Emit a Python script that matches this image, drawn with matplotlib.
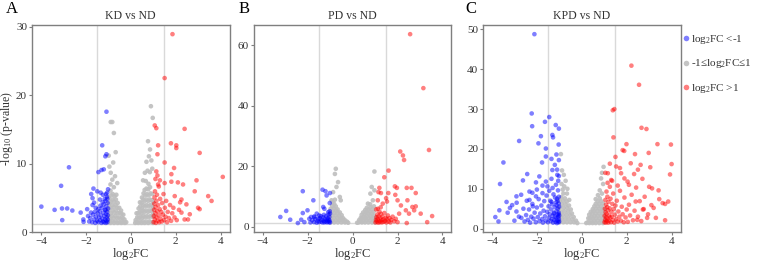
import matplotlib

matplotlib.use("Agg")

import matplotlib.pyplot as plt
from matplotlib.lines import Line2D

plt.rcParams["font.family"] = ["Liberation Serif", "DejaVu Serif"]
plt.rcParams["mathtext.fontset"] = "custom"
plt.rcParams["mathtext.rm"] = "Liberation Serif"
plt.rcParams["mathtext.it"] = "Liberation Serif"

# ---- data: (log2FC, -log10 p-value) ----

titles = ["KD vs ND", "PD vs ND", "KPD vs ND"]
letters = ["A", "B", "C"]
y_ticks = [[0, 10, 20, 30], [0, 20, 40, 60], [0, 10, 20, 30, 40, 50]]
x_ticks = [-4, -2, 0, 2, 4]
fc_lines = [-1.5, 1.5]
p_line = 1.3

kd_down = [
    (-3.98, 3.77), (-3.39, 3.3), (-3.1, 6.8), (-3.06, 3.5), (-2.83, 3.5), (-3.05, 1.8),
    (-2.75, 9.5), (-2.6, 3.2), (-2.23, 2.9), (-2.11, 1.9), (-2.1, 1.55), (-1.94, 3.4),
    (-1.9, 2.4), (-1.77, 2.9), (-1.76, 5.6), (-1.7, 5.0), (-1.66, 6.4), (-1.63, 4.35),
    (-1.56, 3.6), (-1.49, 6.0), (-1.44, 8.8), (-1.37, 4.8), (-1.34, 5.8), (-1.3, 9.1),
    (-1.27, 12.7), (-1.24, 5.5), (-1.2, 9.2), (-1.13, 11.1), (-1.08, 11.4), (-1.08, 17.6),
    (-1.05, 5.8), (-1.85, 1.6), (-1.8, 2.1), (-1.72, 1.5), (-1.68, 2.6), (-1.62, 1.9),
    (-1.58, 1.4), (-1.55, 2.3), (-1.5, 1.7), (-1.47, 2.8), (-1.44, 1.5), (-1.41, 2.2),
    (-1.38, 3.1), (-1.36, 1.8), (-1.33, 2.5), (-1.3, 1.4), (-1.28, 3.6), (-1.26, 2.0),
    (-1.24, 1.6), (-1.22, 2.9), (-1.2, 4.1), (-1.19, 1.5), (-1.17, 2.4), (-1.15, 3.3),
    (-1.14, 1.9), (-1.12, 4.6), (-1.11, 1.4), (-1.1, 2.7), (-1.09, 3.8), (-1.08, 1.7),
    (-1.07, 2.2), (-1.06, 5.2), (-1.05, 3.0), (-1.04, 1.5), (-1.03, 4.3), (-1.02, 2.5),
    (-1.02, 1.9), (-1.01, 3.5), (-1.01, 6.3), (-1.12, 3.3), (-1.16, 4.9), (-1.25, 4.4),
    (-1.35, 3.9), (-1.45, 3.4), (-1.6, 3.0), (-1.7, 4.0), (-1.1, 5.6), (-1.04, 4.9),
]
kd_flat = [
    (-0.89, 16.1), (-0.82, 16.1), (-0.75, 14.5), (-0.67, 11.7), (-0.78, 10.2), (-0.89, 8.7),
    (-0.82, 7.7), (-0.95, 9.6), (-0.7, 8.2), (-0.9, 7.0), (-0.6, 7.2), (-0.75, 6.6),
    (-0.98, 11.2),
    (-0.98, 1.5), (-0.97, 2.4), (-0.99, 3.3), (-0.96, 4.2), (-0.98, 5.1),
    (-0.9, 1.4), (-0.92, 2.0), (-0.89, 2.8), (-0.91, 3.6), (-0.9, 4.5), (-0.88, 5.4), (-0.9, 6.1),
    (-0.82, 1.6), (-0.84, 2.4), (-0.81, 3.2), (-0.83, 4.0), (-0.82, 4.8), (-0.8, 5.6),
    (-0.74, 1.4), (-0.76, 2.1), (-0.73, 2.9), (-0.75, 3.7), (-0.74, 4.5), (-0.72, 5.3),
    (-0.66, 1.6), (-0.68, 2.4), (-0.65, 3.2), (-0.67, 4.0), (-0.66, 4.8), (-0.64, 5.5),
    (-0.58, 1.4), (-0.6, 2.1), (-0.57, 2.8), (-0.59, 3.6), (-0.58, 4.3),
    (-0.5, 1.5), (-0.52, 2.2), (-0.49, 2.9), (-0.51, 3.6),
    (-0.42, 1.4), (-0.44, 2.0), (-0.41, 2.7), (-0.43, 3.2),
    (-0.34, 1.5), (-0.36, 2.1), (-0.33, 2.6), (-0.26, 1.4), (-0.28, 1.9), (-0.2, 1.5),
    (0.9, 18.4), (0.98, 16.7), (0.77, 13.3), (0.81, 11.1), (0.86, 12.1), (0.63, 8.7),
    (0.7, 10.3), (0.92, 10.5), (0.96, 9.3), (0.55, 7.6), (0.85, 8.8), (0.75, 9.0), (0.67, 7.5),
    (0.2, 1.4), (0.22, 1.8), (0.27, 1.5), (0.29, 2.2), (0.26, 2.8),
    (0.34, 1.4), (0.36, 2.1), (0.33, 2.8), (0.35, 3.5),
    (0.41, 1.6), (0.43, 2.3), (0.4, 3.0), (0.42, 3.8), (0.41, 4.4),
    (0.48, 1.4), (0.5, 2.1), (0.47, 2.8), (0.49, 3.5), (0.48, 4.3), (0.5, 5.1),
    (0.55, 1.6), (0.57, 2.4), (0.54, 3.2), (0.56, 4.0), (0.55, 4.8), (0.57, 5.7),
    (0.62, 1.4), (0.64, 2.2), (0.61, 3.0), (0.63, 3.8), (0.62, 4.6), (0.64, 5.4), (0.62, 6.2),
    (0.7, 1.6), (0.72, 2.4), (0.69, 3.2), (0.71, 4.0), (0.7, 4.8), (0.72, 5.6), (0.7, 6.4),
    (0.78, 1.4), (0.8, 2.2), (0.77, 3.0), (0.79, 3.8), (0.78, 4.6), (0.8, 5.4), (0.78, 6.3),
    (0.79, 7.1),
    (0.86, 1.6), (0.88, 2.4), (0.85, 3.2), (0.87, 4.0), (0.86, 4.8), (0.88, 5.7), (0.86, 6.6),
    (0.94, 1.5), (0.96, 2.3), (0.93, 3.1), (0.95, 3.9), (0.94, 4.7), (0.96, 5.6),
    (0.99, 1.4), (0.99, 2.6), (0.98, 3.5), (0.99, 4.4),
]
kd_up = [
    (1.86, 28.9), (1.51, 22.5), (2.4, 15.1), (1.07, 15.6), (1.14, 15.2), (1.22, 12.7),
    (1.79, 13.0), (2.03, 12.7), (2.03, 12.3), (3.07, 11.6), (1.19, 11.4), (1.51, 10.2),
    (1.93, 9.4), (1.14, 8.9), (1.19, 8.3), (1.81, 8.5), (4.1, 8.1), (2.93, 7.6),
    (2.33, 7.0), (2.1, 7.3), (1.81, 7.4), (1.51, 7.2), (1.22, 7.0), (2.85, 6.0),
    (3.45, 5.3), (3.6, 4.6), (3.0, 3.6), (3.07, 3.4), (2.26, 4.8), (2.48, 4.1),
    (2.26, 2.9), (2.63, 2.66), (2.55, 1.9), (2.4, 1.9), (1.96, 5.3),
    (1.02, 1.5), (1.03, 2.4), (1.04, 3.3), (1.05, 4.2), (1.06, 5.1), (1.07, 1.9),
    (1.08, 6.0), (1.1, 2.8), (1.11, 3.7), (1.12, 1.4), (1.14, 4.6), (1.15, 2.2),
    (1.17, 5.5), (1.18, 3.1), (1.2, 1.7), (1.22, 4.0), (1.24, 2.5), (1.25, 6.7),
    (1.27, 1.5), (1.29, 3.4), (1.31, 4.9), (1.33, 2.0), (1.36, 3.0), (1.38, 1.6),
    (1.4, 4.3), (1.43, 2.6), (1.46, 5.6), (1.49, 1.8), (1.52, 3.6), (1.55, 2.3),
    (1.58, 4.6), (1.62, 1.5), (1.65, 3.0), (1.7, 2.1), (1.75, 4.0), (1.8, 1.7),
    (1.85, 2.8), (1.9, 3.6), (1.95, 2.2), (2.05, 1.8), (2.15, 3.3), (2.2, 4.4),
    (1.1, 7.8), (1.3, 7.6),
]

pd_down = [
    (-3.22, 3.3), (-2.96, 5.3), (-2.78, 2.4), (-2.44, 1.3), (-2.29, 2.4), (-2.22, 11.8),
    (-2.22, 4.6), (-2.15, 1.6), (-2.01, 5.5), (-1.93, 2.7), (-1.85, 3.3), (-1.75, 8.8),
    (-1.71, 3.5), (-1.6, 4.4), (-1.53, 2.7), (-1.49, 3.8), (-1.34, 12.3), (-1.31, 6.6),
    (-1.26, 6.0), (-1.21, 11.8), (-1.16, 10.4), (-1.09, 4.9), (-1.01, 11.2), (-1.02, 7.9),
    (-1.01, 4.4), (-1.88, 1.5), (-1.8, 2.2), (-1.72, 1.6), (-1.66, 2.6), (-1.6, 1.4),
    (-1.56, 2.0), (-1.5, 1.6), (-1.46, 2.9), (-1.42, 1.8), (-1.38, 2.4), (-1.35, 1.5),
    (-1.32, 3.2), (-1.29, 2.0), (-1.26, 1.5), (-1.24, 2.7), (-1.21, 1.8), (-1.18, 3.6),
    (-1.16, 2.3), (-1.14, 1.5), (-1.12, 2.9), (-1.1, 1.9), (-1.08, 4.1), (-1.07, 2.5),
    (-1.05, 1.6), (-1.04, 3.3), (-1.03, 2.1), (-1.02, 5.2), (-1.01, 1.5), (-1.28, 4.0),
    (-1.42, 3.6), (-1.7, 3.2),
]
pd_flat = [
    (-0.75, 19.2), (-0.79, 17.5), (-0.65, 14.8), (-0.72, 13.2), (-0.87, 11.5), (-0.57, 9.9),
    (-0.53, 8.8), (-0.79, 9.0), (-0.94, 8.8),
    (-0.98, 1.5), (-0.97, 3.0), (-0.99, 4.5), (-0.98, 6.0),
    (-0.9, 2.2), (-0.92, 3.8), (-0.89, 5.4), (-0.91, 7.0), (-0.9, 8.2),
    (-0.82, 1.5), (-0.84, 3.0), (-0.81, 4.6), (-0.83, 6.2), (-0.82, 7.6),
    (-0.74, 2.2), (-0.76, 3.8), (-0.73, 5.4), (-0.75, 6.8),
    (-0.66, 1.5), (-0.68, 3.0), (-0.65, 4.5), (-0.67, 5.8),
    (-0.58, 2.2), (-0.6, 3.6), (-0.57, 4.8),
    (-0.5, 1.5), (-0.52, 2.8), (-0.49, 3.9), (-0.42, 2.0), (-0.44, 3.0),
    (-0.34, 1.5), (-0.36, 2.4), (-0.26, 1.8), (-0.2, 1.4),
    (0.97, 18.3), (0.79, 11.0), (0.85, 13.2), (0.9, 8.8), (0.68, 7.7), (0.97, 12.1),
    (0.2, 1.4), (0.27, 1.5), (0.29, 2.3), (0.34, 1.8), (0.36, 3.0),
    (0.41, 1.5), (0.43, 2.8), (0.4, 4.0), (0.48, 2.0), (0.5, 3.4), (0.47, 4.8),
    (0.55, 1.5), (0.57, 2.9), (0.54, 4.3), (0.56, 5.6),
    (0.62, 2.2), (0.64, 3.6), (0.61, 5.0), (0.63, 6.3),
    (0.7, 1.5), (0.72, 2.9), (0.69, 4.4), (0.71, 5.8),
    (0.78, 2.2), (0.8, 3.6), (0.77, 5.0), (0.79, 6.5), (0.78, 7.5),
    (0.86, 1.5), (0.88, 3.0), (0.85, 4.4), (0.87, 5.8),
    (0.94, 2.2), (0.96, 3.6), (0.93, 5.0), (0.95, 6.8), (0.99, 1.5), (0.99, 3.0),
]
pd_up = [
    (2.56, 63.6), (3.15, 45.8), (3.4, 25.4), (2.12, 24.9), (2.24, 23.6), (2.29, 22.1),
    (1.6, 18.6), (1.41, 16.4), (1.88, 13.4), (1.97, 12.9), (2.41, 12.9), (2.62, 12.9),
    (2.81, 11.2), (1.19, 12.9), (1.26, 11.2), (1.15, 11.5), (1.59, 11.2), (1.49, 9.5),
    (1.53, 8.4), (1.9, 10.6), (1.12, 8.8), (1.34, 7.7), (2.0, 8.8), (2.15, 7.1),
    (2.44, 8.8), (2.66, 6.6), (2.81, 6.8), (2.74, 5.5), (3.03, 4.4), (3.54, 3.6),
    (3.32, 1.6), (2.41, 1.3), (2.51, 4.4), (2.37, 5.5), (2.07, 4.4),
    (1.02, 1.5), (1.04, 2.3), (1.06, 3.2), (1.08, 1.8), (1.1, 4.1), (1.12, 2.6),
    (1.14, 1.4), (1.16, 3.5), (1.18, 2.0), (1.2, 5.0), (1.22, 1.6), (1.24, 2.9),
    (1.26, 4.3), (1.28, 2.2), (1.3, 1.5), (1.33, 3.4), (1.36, 2.5), (1.38, 1.7),
    (1.41, 4.6), (1.44, 2.0), (1.47, 3.0), (1.5, 1.5), (1.53, 2.6), (1.57, 3.8),
    (1.6, 1.8), (1.64, 2.9), (1.68, 1.5), (1.72, 2.3), (1.78, 3.4), (1.85, 1.9),
    (1.92, 2.7), (2.0, 1.6), (1.12, 6.0), (1.25, 6.5), (1.05, 5.8),
]

kpd_down = [
    (-2.11, 48.8), (-2.23, 28.9), (-1.45, 28.0), (-1.64, 26.8), (-2.21, 25.7), (-1.16, 26.0),
    (-1.02, 25.1), (-1.31, 23.5), (-1.28, 22.9), (-1.82, 23.2), (-2.79, 22.0), (-1.03, 21.1),
    (-1.93, 21.4), (-1.6, 20.1), (-1.6, 18.1), (-1.35, 17.5), (-1.77, 16.6), (-3.49, 16.6),
    (-1.13, 18.6), (-1.02, 17.2), (-2.43, 13.7), (-2.62, 12.1), (-2.04, 11.6), (-3.64, 11.2),
    (-1.31, 14.7), (-1.09, 13.5), (-1.02, 13.2), (-1.89, 13.1), (-2.33, 9.3), (-2.91, 8.1),
    (-3.35, 6.7), (-3.2, 5.2), (-3.67, 4.6), (-3.85, 2.9), (-3.71, 1.8), (-2.91, 4.3),
    (-2.69, 2.7), (-2.33, 7.2), (-2.04, 8.1), (-1.75, 8.9), (-1.53, 10.6), (-2.18, 5.6),
    (-2.55, 1.8), (-2.48, 3.4), (-2.4, 2.2), (-2.35, 4.8), (-2.3, 1.5), (-2.25, 3.0),
    (-2.2, 6.2), (-2.15, 2.5), (-2.1, 4.0), (-2.05, 1.6), (-2.0, 5.3), (-1.96, 2.9),
    (-1.92, 7.4), (-1.88, 1.9), (-1.85, 3.8), (-1.8, 5.8), (-1.77, 2.4), (-1.73, 1.5),
    (-1.7, 4.5), (-1.67, 6.9), (-1.64, 3.1), (-1.6, 2.0), (-1.57, 8.3), (-1.54, 4.2),
    (-1.51, 1.6), (-1.48, 5.6), (-1.46, 2.7), (-1.43, 3.6), (-1.4, 7.0), (-1.38, 1.9),
    (-1.36, 4.8), (-1.34, 2.4), (-1.32, 6.1), (-1.3, 3.2), (-1.28, 1.5), (-1.26, 8.6),
    (-1.24, 4.0), (-1.22, 2.2), (-1.2, 5.4), (-1.18, 3.0), (-1.17, 1.7), (-1.15, 6.6),
    (-1.14, 2.6), (-1.12, 4.4), (-1.11, 1.4), (-1.1, 7.5), (-1.09, 3.5), (-1.08, 2.0),
    (-1.07, 5.0), (-1.06, 9.6), (-1.05, 2.9), (-1.04, 1.6), (-1.03, 4.0), (-1.03, 6.3),
    (-1.02, 2.4), (-1.02, 8.0), (-1.01, 3.3), (-1.01, 1.8), (-1.01, 5.5), (-1.3, 10.2),
    (-1.45, 9.5), (-1.6, 11.8), (-1.75, 10.8), (-2.0, 9.8), (-2.6, 5.0), (-2.8, 3.0),
    (-3.0, 2.0), (-3.1, 5.9), (-2.9, 6.5), (-3.3, 4.0), (-2.7, 8.5), (-2.45, 7.0),
    (-2.2, 9.0), (-1.35, 12.5), (-1.15, 11.0), (-1.1, 14.8), (-1.2, 16.0), (-1.05, 12.0),
    (-1.25, 3.8), (-1.13, 5.9), (-1.08, 7.0), (-1.04, 3.6), (-1.19, 7.8), (-1.35, 6.7),
]
kpd_flat = [
    (-0.93, 18.7), (-0.88, 14.6), (-0.8, 13.5), (-0.72, 12.0), (-0.78, 10.6), (-0.64, 10.0),
    (-0.9, 11.2), (-0.66, 8.8), (-0.56, 7.2), (-0.85, 9.8),
    (-0.98, 1.6), (-0.97, 3.4), (-0.99, 5.2), (-0.98, 7.0),
    (-0.9, 2.5), (-0.92, 4.3), (-0.89, 6.1), (-0.91, 7.9),
    (-0.82, 1.6), (-0.84, 3.4), (-0.81, 5.2), (-0.83, 7.0), (-0.82, 8.8),
    (-0.74, 2.5), (-0.76, 4.3), (-0.73, 6.1), (-0.75, 7.6),
    (-0.66, 1.6), (-0.68, 3.4), (-0.65, 5.2), (-0.67, 6.8),
    (-0.58, 2.5), (-0.6, 4.3), (-0.57, 5.8),
    (-0.5, 1.6), (-0.52, 3.4), (-0.49, 4.8), (-0.42, 2.4), (-0.44, 3.8),
    (-0.34, 1.6), (-0.36, 2.9), (-0.26, 2.0), (-0.2, 1.4),
    (0.97, 15.5), (0.9, 14.0), (0.86, 12.6), (0.8, 9.6), (0.72, 8.4), (0.95, 11.2),
    (0.62, 7.4), (0.9, 8.8),
    (0.2, 1.4), (0.27, 1.6), (0.29, 2.6), (0.34, 1.4), (0.36, 2.6), (0.33, 3.5),
    (0.41, 1.8), (0.43, 3.0), (0.4, 4.2),
    (0.48, 1.4), (0.5, 2.6), (0.47, 3.8), (0.49, 4.9),
    (0.55, 2.0), (0.57, 3.2), (0.54, 4.4), (0.56, 5.6),
    (0.62, 1.4), (0.64, 2.6), (0.61, 3.8), (0.63, 5.0), (0.62, 6.2),
    (0.7, 2.0), (0.72, 3.2), (0.69, 4.4), (0.71, 5.6), (0.7, 6.8),
    (0.78, 1.4), (0.8, 2.6), (0.77, 3.8), (0.79, 5.0), (0.78, 6.2), (0.8, 7.6),
    (0.86, 2.0), (0.88, 3.2), (0.85, 4.4), (0.87, 5.6), (0.86, 6.9),
    (0.94, 1.4), (0.96, 2.6), (0.93, 3.8), (0.95, 5.0), (0.94, 6.3),
    (0.99, 2.0), (0.99, 3.2), (0.98, 4.6),
]
kpd_up = [
    (2.21, 40.9), (2.55, 36.1), (1.38, 29.7), (1.45, 30.0), (2.66, 25.3), (2.88, 25.0),
    (1.41, 22.9), (1.99, 21.2), (3.37, 21.2), (3.97, 21.1), (1.82, 19.7), (1.89, 19.5),
    (2.98, 19.0), (2.37, 18.7), (4.0, 16.2), (2.62, 16.0), (3.05, 15.4), (3.93, 13.6),
    (1.75, 13.9), (2.33, 13.7), (2.04, 11.8), (1.16, 13.9), (1.31, 12.2), (1.53, 15.6),
    (2.18, 16.4), (3.13, 10.1), (3.42, 9.6), (3.85, 6.8), (3.6, 6.4), (3.71, 6.2),
    (3.71, 2.1), (3.2, 5.2), (2.76, 4.9), (2.4, 6.8), (2.91, 2.7), (2.47, 2.2),
    (1.01, 1.6), (1.02, 3.2), (1.03, 5.0), (1.04, 2.2), (1.05, 7.2), (1.06, 4.1),
    (1.07, 1.5), (1.08, 6.0), (1.09, 2.8), (1.1, 9.3), (1.11, 3.7), (1.12, 1.9),
    (1.13, 5.4), (1.14, 8.0), (1.15, 2.5), (1.17, 4.6), (1.18, 1.5), (1.19, 6.7),
    (1.21, 3.3), (1.22, 2.0), (1.24, 5.1), (1.25, 10.5), (1.27, 2.8), (1.28, 7.5),
    (1.3, 1.6), (1.32, 4.2), (1.34, 3.0), (1.36, 6.2), (1.38, 2.1), (1.4, 8.8),
    (1.42, 4.9), (1.44, 1.5), (1.47, 3.5), (1.5, 5.8), (1.53, 2.4), (1.56, 7.0),
    (1.6, 1.8), (1.63, 4.3), (1.67, 3.0), (1.7, 9.5), (1.74, 2.0), (1.78, 5.5),
    (1.82, 3.6), (1.87, 1.6), (1.9, 7.8), (1.95, 2.8), (2.0, 4.8), (2.05, 1.7),
    (2.1, 6.0), (2.15, 3.3), (2.22, 8.5), (2.28, 2.1), (2.35, 4.5), (2.42, 10.3),
    (2.5, 3.0), (2.58, 6.9), (2.65, 1.9), (2.72, 4.8), (2.8, 8.0), (2.95, 3.6),
    (3.1, 5.9), (3.3, 2.7), (3.45, 7.4), (1.15, 11.5), (1.35, 12.0), (1.6, 10.8),
    (1.9, 12.6), (2.1, 11.0), (2.7, 12.5), (3.0, 10.5), (1.05, 14.0), (1.25, 16.3),
    (1.5, 18.0), (1.7, 15.2), (2.5, 14.8),
]

panels = [(kd_down, kd_flat, kd_up), (pd_down, pd_flat, pd_up), (kpd_down, kpd_flat, kpd_up)]

col_down = "#0000FF"
col_flat = "#BEBEBE"
col_up = "#FF0000"
frame_col = "#7F7F7F"
text_col = "#333333"
line_col = "#D9D9D9"


def draw_panel(ax, groups, title, ticks):
    ax.axvline(fc_lines[0], color=line_col, lw=1, zorder=0)
    ax.axvline(fc_lines[1], color=line_col, lw=1, zorder=0)
    ax.axhline(p_line, color=line_col, lw=1, zorder=0)
    down, flat, up = groups
    for pts, c, a in [(flat, col_flat, 0.9), (down, col_down, 0.5), (up, col_up, 0.5)]:
        xs = [p[0] for p in pts]
        ys = [p[1] for p in pts]
        ax.scatter(xs, ys, s=11, color=c, alpha=a, edgecolors="none", zorder=2)
    allp = [p[1] for g in groups for p in g]
    lo, hi = min(allp), max(allp)
    pad = 0.05 * (hi - lo)
    ax.set_ylim(lo - pad, hi + pad)
    ax.set_xlim(-4.4, 4.4)
    ax.set_xticks(x_ticks)
    ax.set_yticks(ticks)
    for s in ax.spines.values():
        s.set_color(frame_col)
        s.set_linewidth(1)
    ax.tick_params(colors=frame_col, labelcolor=text_col, labelsize=8, length=2.5,
                   width=0.8, pad=1)
    ax.set_title(title, fontsize=8.5, color=text_col, pad=4)
    ax.set_xlabel(r"log$_2$FC", fontsize=9, color=text_col, labelpad=0)


def main():
    fig = plt.figure(figsize=(7.6, 2.63), dpi=100)
    lefts = [0.042, 0.334, 0.6355]
    axes = []
    for i in range(3):
        ax = fig.add_axes([lefts[i], 0.116, 0.26, 0.79])
        draw_panel(ax, panels[i], titles[i], y_ticks[i])
        axes.append(ax)
    axes[0].set_ylabel(r"-log$_{10}$ (p-value)", fontsize=8.5, color=text_col)
    axes[0].yaxis.set_label_coords(-0.085, 0.5)

    letter_x = [0.008, 0.314, 0.612]
    for lx, lt in zip(letter_x, letters):
        fig.text(lx, 0.995, lt, fontsize=12, color="black", va="top", ha="left")

    handles = [
        Line2D([], [], marker="o", ls="none", ms=4, mec="none", mfc=col_down, alpha=0.5),
        Line2D([], [], marker="o", ls="none", ms=4, mec="none", mfc=col_flat, alpha=0.9),
        Line2D([], [], marker="o", ls="none", ms=4, mec="none", mfc=col_up, alpha=0.5),
    ]
    labels = [r"log$_2$FC <-1", r"-1≤log$_2$FC≤1", r"log$_2$FC >1"]
    fig.legend(handles, labels, loc="upper left", bbox_to_anchor=(0.889, 0.89),
               frameon=False, fontsize=8, handletextpad=0.0, handlelength=1.0,
               labelspacing=1.0, borderaxespad=0, labelcolor=text_col)

    plt.savefig("out.png", dpi=100)


if __name__ == "__main__":
    main()
